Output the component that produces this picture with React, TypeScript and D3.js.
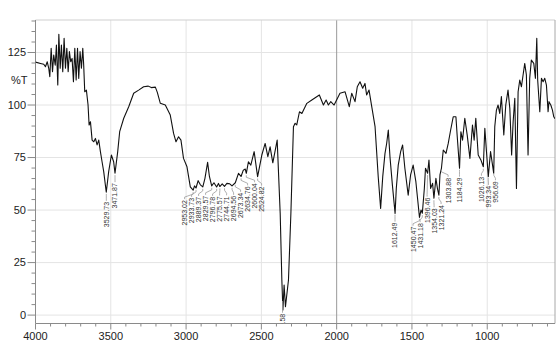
import React from "react";
import * as d3 from "d3";

// IR spectrum: [wavenumber cm-1, %T]
const spectrum: [number, number][] = [
  [4000, 120.5], [3993, 120.3], [3967, 119.8], [3945, 119.4], [3934, 118.2], [3922, 120.6],
  [3912, 117.5], [3905, 113.5], [3896, 127], [3887, 115.9], [3879, 123.8], [3869, 119],
  [3861, 128.6], [3852, 109.5], [3845, 133.7], [3836, 117.5], [3828, 128.6], [3819, 115.9],
  [3810, 131.8], [3801, 117.5], [3792, 127], [3783, 115.9], [3775, 125.4], [3766, 120.6],
  [3757, 122.2], [3748, 111.1], [3739, 127], [3730, 111.9], [3721, 127], [3713, 112.7],
  [3704, 125.4], [3695, 117.5], [3686, 127], [3680, 119], [3673, 106.3], [3662, 107.1],
  [3651, 100], [3644, 90.5], [3635, 92], [3624, 83.3], [3613, 82.5], [3602, 84.1],
  [3591, 81], [3580, 83.3], [3569, 77.8], [3558, 73], [3547, 68.3], [3530, 58.5],
  [3514, 68.3], [3496, 76.2], [3481, 73], [3472, 67.5], [3454, 77.8], [3441, 87.3],
  [3414, 93.7], [3381, 99.2], [3348, 105.6], [3315, 107.1], [3282, 108.7], [3251, 109],
  [3231, 108.3], [3204, 108.5], [3191, 106], [3171, 100.8], [3138, 100], [3105, 95.2],
  [3083, 86.5], [3067, 82.5], [3050, 84.9], [3034, 83.3], [3017, 74.6], [2994, 70.6],
  [2972, 61], [2953, 59.5], [2944, 61.5], [2934, 60.5], [2920, 64], [2905, 62],
  [2889, 61], [2875, 65], [2857, 72.7], [2845, 66], [2830, 61.5], [2815, 63],
  [2797, 61], [2785, 62.7], [2776, 61.2], [2760, 62.5], [2745, 61.3], [2729, 62.7],
  [2710, 62.5], [2695, 61.5], [2673, 63], [2652, 67.5], [2635, 66], [2620, 69],
  [2607, 69.5], [2600, 67.5], [2586, 73], [2570, 71.4], [2548, 77.8], [2525, 65.9],
  [2497, 76.2], [2475, 81.7], [2457, 75.4], [2442, 80.1], [2424, 72.5], [2395, 83.3],
  [2375, 48.5], [2364, 16.7], [2357, 2.4], [2349, 14.3], [2340, 4], [2320, 16.7],
  [2304, 48.4], [2287, 89.7], [2276, 91.3], [2265, 90.5], [2247, 96.8], [2231, 96],
  [2198, 100.8], [2165, 102.4], [2115, 104.8], [2088, 100], [2070, 102.4], [2055, 100],
  [2039, 101.6], [2017, 100], [1978, 105.6], [1944, 106.3], [1916, 99.2], [1900, 105.6],
  [1878, 101.6], [1863, 108.7], [1845, 111.1], [1827, 108], [1812, 110.3], [1801, 104.8],
  [1785, 107.1], [1767, 99.2], [1745, 89.7], [1724, 65.9], [1708, 50.8], [1694, 65.9],
  [1679, 77], [1668, 81.7], [1657, 88.1], [1646, 75.4], [1630, 62], [1612, 48.4],
  [1604, 60.3], [1591, 71.4], [1575, 77.8], [1562, 81], [1547, 69.9], [1525, 57.1],
  [1509, 66.7], [1492, 71.4], [1474, 63.5], [1462, 55], [1450, 46.5], [1440, 50],
  [1431, 48.5], [1418, 60], [1410, 69.9], [1396, 67.5], [1387, 73.8], [1376, 60.3],
  [1363, 62.7], [1354, 55.6], [1341, 65.1], [1330, 60], [1321, 57.1], [1314, 66.7],
  [1304, 70], [1292, 78.6], [1274, 77], [1259, 81.7], [1243, 88.1], [1226, 94.4],
  [1208, 94.4], [1200, 85.7], [1184, 69.9], [1175, 87.3], [1164, 83.3], [1149, 93.7],
  [1133, 85.7], [1115, 74.6], [1098, 90.5], [1087, 83.3], [1076, 93.7], [1060, 76.2],
  [1043, 74], [1026, 70.6], [1016, 88.9], [1005, 77.8], [993, 65.9], [978, 77.8],
  [966, 72], [957, 67.5], [950, 89.7], [939, 97.6], [928, 100], [917, 96],
  [906, 104], [890, 85.7], [877, 100], [862, 107.1], [850, 98.4], [838, 76.2],
  [828, 92], [817, 103.2], [806, 60.3], [795, 106.3], [784, 111.9], [773, 108.7],
  [762, 114.3], [751, 119.8], [740, 114.3], [729, 76.2], [718, 112.7], [707, 121.4],
  [691, 119.8], [680, 112.7], [671, 131.8], [665, 111.9], [651, 96.8], [640, 112.7],
  [629, 111.1], [618, 112.7], [607, 109.5], [596, 96.8], [590, 101.6], [578, 100],
  [567, 97.6], [558, 94.4], [550, 93.5],
];

const peakLabels = [
  "3529.73", "3471.87", "2953.02", "2933.73", "2889.37", "2829.57", "2796.78",
  "2775.57", "2744.71", "2694.56", "2673.34", "2634.76", "2600.04", "2524.82",
  "2359.58", "1612.49", "1450.47", "1431.18", "1396.46", "1354.03", "1321.24",
  "1303.88", "1184.29", "1026.13", "993.34", "956.69",
];

const xTickValues = [4000, 3500, 3000, 2500, 2000, 1500, 1000];
const yTickValues = [0, 25, 50, 75, 100, 125];

const W = 558;
const H = 343;
const L = 35.5, R = 555, T = 20, B = 323.5;

export default function App() {
  const x = d3.scaleLinear().domain([4000, 550]).range([L, R]);
  const y = d3.scaleLinear().domain([-4, 140]).range([B, T + 1]);
  const interp = d3.scaleLinear().domain(spectrum.map((d) => d[0])).range(spectrum.map((d) => d[1]));

  const line = d3.line<[number, number]>().x((d) => x(d[0])).y((d) => y(d[1]));

  const xMinor = d3.range(4000, 550, -100);
  const yMinor = d3.range(0, 141, 5);

  // label layout: spread overlapping labels horizontally
  const labels = peakLabels.map((t) => {
    const wn = parseFloat(t);
    const xp = x(wn);
    const yp = y(interp(wn));
    return { t, xp, yp, lx: xp, ty: 0 };
  });
  const gap = 7.0;
  for (let it = 0; it < 400; it++) {
    for (let i = 1; i < labels.length; i++) {
      const a = labels[i - 1], b = labels[i];
      const ov = gap - (b.lx - a.lx);
      if (ov > 0) {
        a.lx -= ov / 2;
        b.lx += ov / 2;
      }
    }
  }
  labels.forEach((lb) => {
    let lowest = lb.yp;
    for (let px = lb.lx - 3; px <= lb.lx + 3; px += 0.5) {
      const v = interp(x.invert(px));
      lowest = Math.max(lowest, y(v));
    }
    lb.ty = Math.max(lb.yp + 10, lowest + 6);
  });

  const font = "Arial, 'Liberation Sans', sans-serif";

  return (
    <svg width={W} height={H} style={{ position: "absolute", left: 0, top: 0, background: "#fff" }}>
      <defs>
        <clipPath id="plot">
          <rect x={L} y={T} width={R - L} height={B - T} />
        </clipPath>
      </defs>
      <rect x={0} y={0} width={W} height={H} fill="#fff" />
      {yTickValues.map((v) => (
        <line key={"gy" + v} x1={L} x2={R} y1={y(v)} y2={y(v)} stroke="#e4e4e4" strokeWidth={1} />
      ))}
      {xTickValues.filter((v) => v !== 4000).map((v) => (
        <line key={"gx" + v} x1={x(v)} x2={x(v)} y1={T} y2={B}
          stroke={v === 2000 ? "#9a9a9a" : "#e4e4e4"} strokeWidth={1} />
      ))}
      <line x1={L} x2={R} y1={T} y2={T} stroke="#cfcfcf" />
      <line x1={R} x2={R} y1={T} y2={B} stroke="#a8a8a8" />
      <line x1={L} x2={L} y1={T} y2={B} stroke="#8a8a8a" />
      <line x1={L} x2={R} y1={B} y2={B} stroke="#8a8a8a" />
      {yMinor.map((v) => (
        <line key={"yt" + v} x1={v % 25 === 0 ? L - 8 : L - 4} x2={L} y1={y(v)} y2={y(v)} stroke="#8a8a8a" />
      ))}
      {yTickValues.map((v) => (
        <text key={"yl" + v} x={26} y={y(v)} dy="0.35em" textAnchor="end" fontSize={11} fontFamily={font} fill="#222">
          {v}
        </text>
      ))}
      <text x={11} y={80} dy="0.35em" fontSize={11} fontFamily={font} fill="#222">%T</text>
      {xMinor.map((v) => (
        <line key={"xt" + v} x1={x(v)} x2={x(v)} y1={B} y2={B + (v % 500 === 0 ? 6 : 3)} stroke="#8a8a8a" />
      ))}
      {xTickValues.map((v) => (
        <text key={"xl" + v} x={x(v)} y={340} textAnchor="middle" fontSize={11} fontFamily={font} fill="#222">
          {v}
        </text>
      ))}
      <g clipPath="url(#plot)">
        <path d={line(spectrum) || ""} fill="none" stroke="#111" strokeWidth={1.1} strokeLinejoin="round" />
        {labels.map((lb) => {
          const pts = [
            [lb.xp, lb.yp + 2],
            [lb.xp, lb.yp + 4],
            [lb.lx, lb.ty - 3],
            [lb.lx, lb.ty - 1],
          ];
          return (
            <g key={lb.t}>
              <polyline points={pts.map((p) => p.join(",")).join(" ")} fill="none" stroke="#9a9a9a" strokeWidth={0.8} />
              <text transform={`translate(${lb.lx},${lb.ty}) rotate(-90)`} textAnchor="end" dy="0.35em"
                fontSize={7} fontFamily={font} fill="#333">
                {lb.t}
              </text>
            </g>
          );
        })}
      </g>
    </svg>
  );
}
